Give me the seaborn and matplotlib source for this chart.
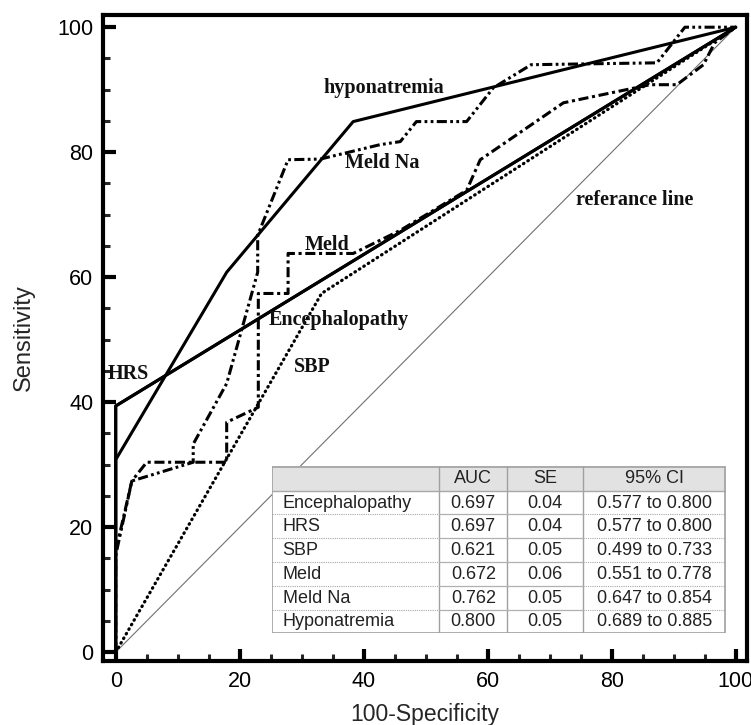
import numpy as np
import pandas as pd
import matplotlib
matplotlib.use("Agg")
import matplotlib.pyplot as plt
import seaborn as sns
from matplotlib.ticker import MultipleLocator
from matplotlib.patches import Rectangle

# ---------------- data ----------------
hypo_x = [0, 0, 17.9, 38.3, 100]
hypo_y = [0, 30.8, 60.8, 84.9, 100]

hrs_x = [0, 0, 100]
hrs_y = [0, 39.4, 100]

enc_x = [0, 0, 100]
enc_y = [0, 39.4, 100]

sbp_x = [0, 33.2, 100]
sbp_y = [0, 57.4, 100]

meld_x = [0, 0, 2.6, 5, 17.9, 17.9, 23, 23, 27.8, 27.8, 38.3, 45.9, 56.6, 58.8,
          72.2, 86.2, 90.5, 94.8, 96.6, 100]
meld_y = [0, 16.2, 27.4, 30.4, 30.4, 36.8, 39.2, 57.4, 57.4, 63.8, 63.8, 67.5, 73.9, 78.8,
          87.9, 90.8, 90.8, 94.0, 97.5, 100]

meldna_x = [0, 0, 2.6, 12.5, 12.5, 17.9, 22.9, 22.9, 27.8, 33, 42.6, 45.9, 48.5, 56.6,
            60.9, 67, 87.3, 91.8, 100]
meldna_y = [0, 15.5, 27.4, 30.4, 33.3, 43.0, 60.8, 66.7, 78.8, 78.9, 81.2, 81.7, 84.9, 84.9,
            90.3, 94.0, 94.3, 100, 100]

ref_x = [0, 100]
ref_y = [0, 100]

curve_labels = ["hyponatremia", "Meld Na", "Meld", "Encephalopathy", "SBP", "HRS", "referance line"]

table_header = ["", "AUC", "SE", "95% CI"]
table_rows = ["Encephalopathy", "HRS", "SBP", "Meld", "Meld Na", "Hyponatremia"]
table_auc = ["0.697", "0.697", "0.621", "0.672", "0.762", "0.800"]
table_se = ["0.04", "0.04", "0.05", "0.06", "0.05", "0.05"]
table_ci = ["0.577 to 0.800", "0.577 to 0.800", "0.499 to 0.733",
            "0.551 to 0.778", "0.647 to 0.854", "0.689 to 0.885"]

# ---------------- style ----------------
sns.set_style("white")
plt.rcParams['font.family'] = ['Liberation Sans', 'DejaVu Sans']

W, H = 751, 725
fig = plt.figure(figsize=(W / 100, H / 100), dpi=100)
ax = fig.add_axes([103 / W, 1 - 661 / H, (747.5 - 103) / W, (661 - 14.7) / H])

# reference line
sns.lineplot(x=ref_x, y=ref_y, ax=ax, color="#707070", linewidth=0.8,
             sort=False, estimator=None, zorder=1)

LW = 2.2
# curves
sns.lineplot(x=hrs_x, y=hrs_y, ax=ax, color="black", linewidth=LW,
             sort=False, estimator=None, zorder=3)
sns.lineplot(x=enc_x, y=enc_y, ax=ax, color="black", linewidth=LW,
             sort=False, estimator=None, zorder=3)
sns.lineplot(x=hypo_x, y=hypo_y, ax=ax, color="black", linewidth=LW,
             sort=False, estimator=None, zorder=3)
sns.lineplot(x=sbp_x, y=sbp_y, ax=ax, color="black", linewidth=2.3,
             linestyle=(0, (0.2, 1.45)), dash_capstyle="round",
             sort=False, estimator=None, zorder=3)
sns.lineplot(x=meld_x, y=meld_y, ax=ax, color="black", linewidth=LW,
             linestyle=(0, (3.3, 1.2, 1.0, 1.2)), sort=False, estimator=None, zorder=3)
sns.lineplot(x=meldna_x, y=meldna_y, ax=ax, color="black", linewidth=LW,
             linestyle=(0, (3.3, 1.1, 0.9, 1.1, 0.9, 1.1)), sort=False, estimator=None, zorder=3)

# curve labels
label_pos = [(33.5, 90.3), (37.0, 78.3), (30.5, 65.1), (24.6, 53.1),
             (28.8, 45.6), (-1.3, 44.5), (74.2, 72.3)]
for lab, (lx, ly) in zip(curve_labels, label_pos):
    ax.text(lx, ly, lab, ha="left", va="center", fontsize=14.5, fontweight="bold",
            family=["Liberation Serif", "DejaVu Serif"], color="#111111", zorder=5)

# axes cosmetics
ax.set_xlim(-2.05, 101.9)
ax.set_ylim(-1.4, 102.0)
ax.xaxis.set_major_locator(MultipleLocator(20))
ax.yaxis.set_major_locator(MultipleLocator(20))
ax.xaxis.set_minor_locator(MultipleLocator(5))
ax.yaxis.set_minor_locator(MultipleLocator(5))
ax.tick_params(which="major", direction="in", length=9, width=3, labelsize=15.5,
               pad=7, colors="black", bottom=True, left=True, top=False, right=False)
ax.tick_params(which="minor", direction="in", length=5, width=2.2,
               bottom=True, left=True, top=False, right=False)
for sp in ax.spines.values():
    sp.set_linewidth(3)
    sp.set_color("black")
    sp.set_visible(True)
ax.set_xlabel("100-Specificity", fontsize=16.5, labelpad=8)
ax.set_ylabel("Sensitivity", fontsize=17, labelpad=16)

# ---------------- table ----------------
tl, tr, tt, tb = 271.7, 726.0, 466.0, 633.3
tax = fig.add_axes([tl / W, 1 - tb / H, (tr - tl) / W, (tb - tt) / H], zorder=10)
tw, th = tr - tl, tb - tt
tax.set_xlim(0, tw)
tax.set_ylim(th, 0)
tax.set_facecolor("white")
tax.axis("off")
tax.add_patch(Rectangle((0, 0), tw, th, facecolor="white", edgecolor="none", zorder=0))

col_edges = [0, 439.3 - tl, 507.3 - tl, 583.3 - tl, tw]
head_h = 24.7
row_h = (th - head_h) / len(table_rows)

tax.add_patch(Rectangle((0, 0), tw, head_h, facecolor="#e2e2e2", edgecolor="none", zorder=1))
# vertical lines
for cx in col_edges[1:-1]:
    tax.plot([cx, cx], [0, th], color="#a0a0a0", lw=1.0, zorder=2)
# header bottom
tax.plot([0, tw], [head_h, head_h], color="#a8a8a8", lw=1.0, zorder=2)
# row separators
for i in range(1, len(table_rows)):
    yy = head_h + i * row_h
    tax.plot([col_edges[0], col_edges[1]], [yy, yy], color="#a8a8a8", lw=0.8,
             linestyle=(0, (1, 1)), zorder=2)
    tax.plot([col_edges[1], col_edges[3]], [yy, yy], color="#b0b0b0", lw=0.9, zorder=2)
    tax.plot([col_edges[3], col_edges[4]], [yy, yy], color="#a8a8a8", lw=0.8,
             linestyle=(0, (1, 1)), zorder=2)
# outer border
tax.add_patch(Rectangle((0.5, 0.5), tw - 1, th - 1, facecolor="none",
                        edgecolor="#a0a0a0", lw=1.2, zorder=3))

fs = 13
for j, h in enumerate(table_header):
    if h:
        tax.text((col_edges[j] + col_edges[j + 1]) / 2, head_h / 2 + 0.5, h,
                 ha="center", va="center", fontsize=fs, color="#222222", zorder=4)
cols = [table_auc, table_se, table_ci]
for i, name in enumerate(table_rows):
    yc = head_h + (i + 0.5) * row_h + 0.5
    tax.text(11, yc, name, ha="left", va="center", fontsize=fs, color="#222222", zorder=4)
    for j, col in enumerate(cols):
        tax.text((col_edges[j + 1] + col_edges[j + 2]) / 2, yc, col[i],
                 ha="center", va="center", fontsize=fs, color="#222222", zorder=4)

fig.savefig("out.png", dpi=100)
